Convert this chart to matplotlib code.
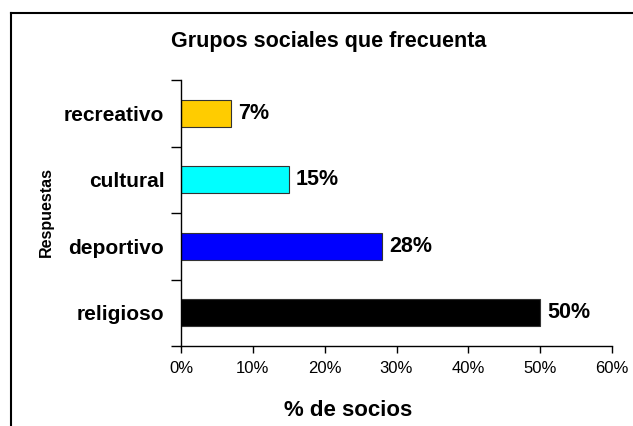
import matplotlib
matplotlib.use("Agg")
import matplotlib.pyplot as plt
from matplotlib.lines import Line2D
from matplotlib.ticker import FuncFormatter

# ── data ──────────────────────────────────────────────────────────────────────
categories = ["religioso", "deportivo", "cultural", "recreativo"]
values     = [50, 28, 15, 7]
colors     = ["#000000", "#0000FF", "#00FFFF", "#FFCC00"]
x_ticks    = [0, 10, 20, 30, 40, 50, 60]

plt.rcParams.update({
    'font.family': ['Liberation Sans', 'DejaVu Sans'],
})

fig = plt.figure(figsize=(6.33, 4.26), dpi=100)
ax = fig.add_axes([181 / 633, 1 - 346 / 426, (612 - 181) / 633, (346 - 80) / 426])

ypos = list(range(len(categories)))
bars = ax.barh(ypos, values, height=0.4, color=colors, edgecolor='#333333', linewidth=0.8)

# value labels next to each bar
for bar, v in zip(bars, values):
    ax.text(bar.get_width() + 1.0, bar.get_y() + bar.get_height() / 2,
            f"{v}%", va='center', ha='left', fontsize=15.5, fontweight='bold')

ax.set_xlim(0, 60)
ax.set_ylim(-0.5, len(categories) - 0.5)
ax.set_xticks(x_ticks)
ax.xaxis.set_major_formatter(FuncFormatter(lambda x, p: f"{x:.0f}%"))

# category ticks sit on the boundaries, labels in the middle
ax.set_yticks([i - 0.5 for i in range(len(categories) + 1)])
ax.set_yticklabels([])
ax.set_yticks(ypos, minor=True)
ax.set_yticklabels(categories, minor=True, fontsize=15, fontweight='bold')
ax.tick_params(axis='y', which='minor', length=0, pad=12)
ax.tick_params(axis='y', which='major', length=7, direction='out', width=1)
ax.tick_params(axis='x', length=5, direction='out', width=1, labelsize=12, pad=6)

for side in ['top', 'right']:
    ax.spines[side].set_visible(False)
ax.spines['left'].set_linewidth(1)
ax.spines['bottom'].set_linewidth(1)

fig.text(46 / 633, 1 - 212 / 426, "Respuestas", rotation=90,
         ha='center', va='center', fontsize=11.5, fontweight='bold')
fig.text(348 / 633, 1 - 411 / 426, "% de socios",
         ha='center', va='center', fontsize=16, fontweight='bold')
fig.text(329 / 633, 1 - 41 / 426, "Grupos sociales que frecuenta",
         ha='center', va='center', fontsize=15.5, fontweight='bold')

# outer chart frame (only top and left edges are visible in the crop)
fig.add_artist(Line2D([11 / 633, 11 / 633], [0, 1 - 13 / 426], color='black', lw=1.5,
                      transform=fig.transFigure))
fig.add_artist(Line2D([11 / 633, 1], [1 - 13 / 426, 1 - 13 / 426], color='black', lw=1.5,
                      transform=fig.transFigure))

fig.savefig("out.png", dpi=100)
